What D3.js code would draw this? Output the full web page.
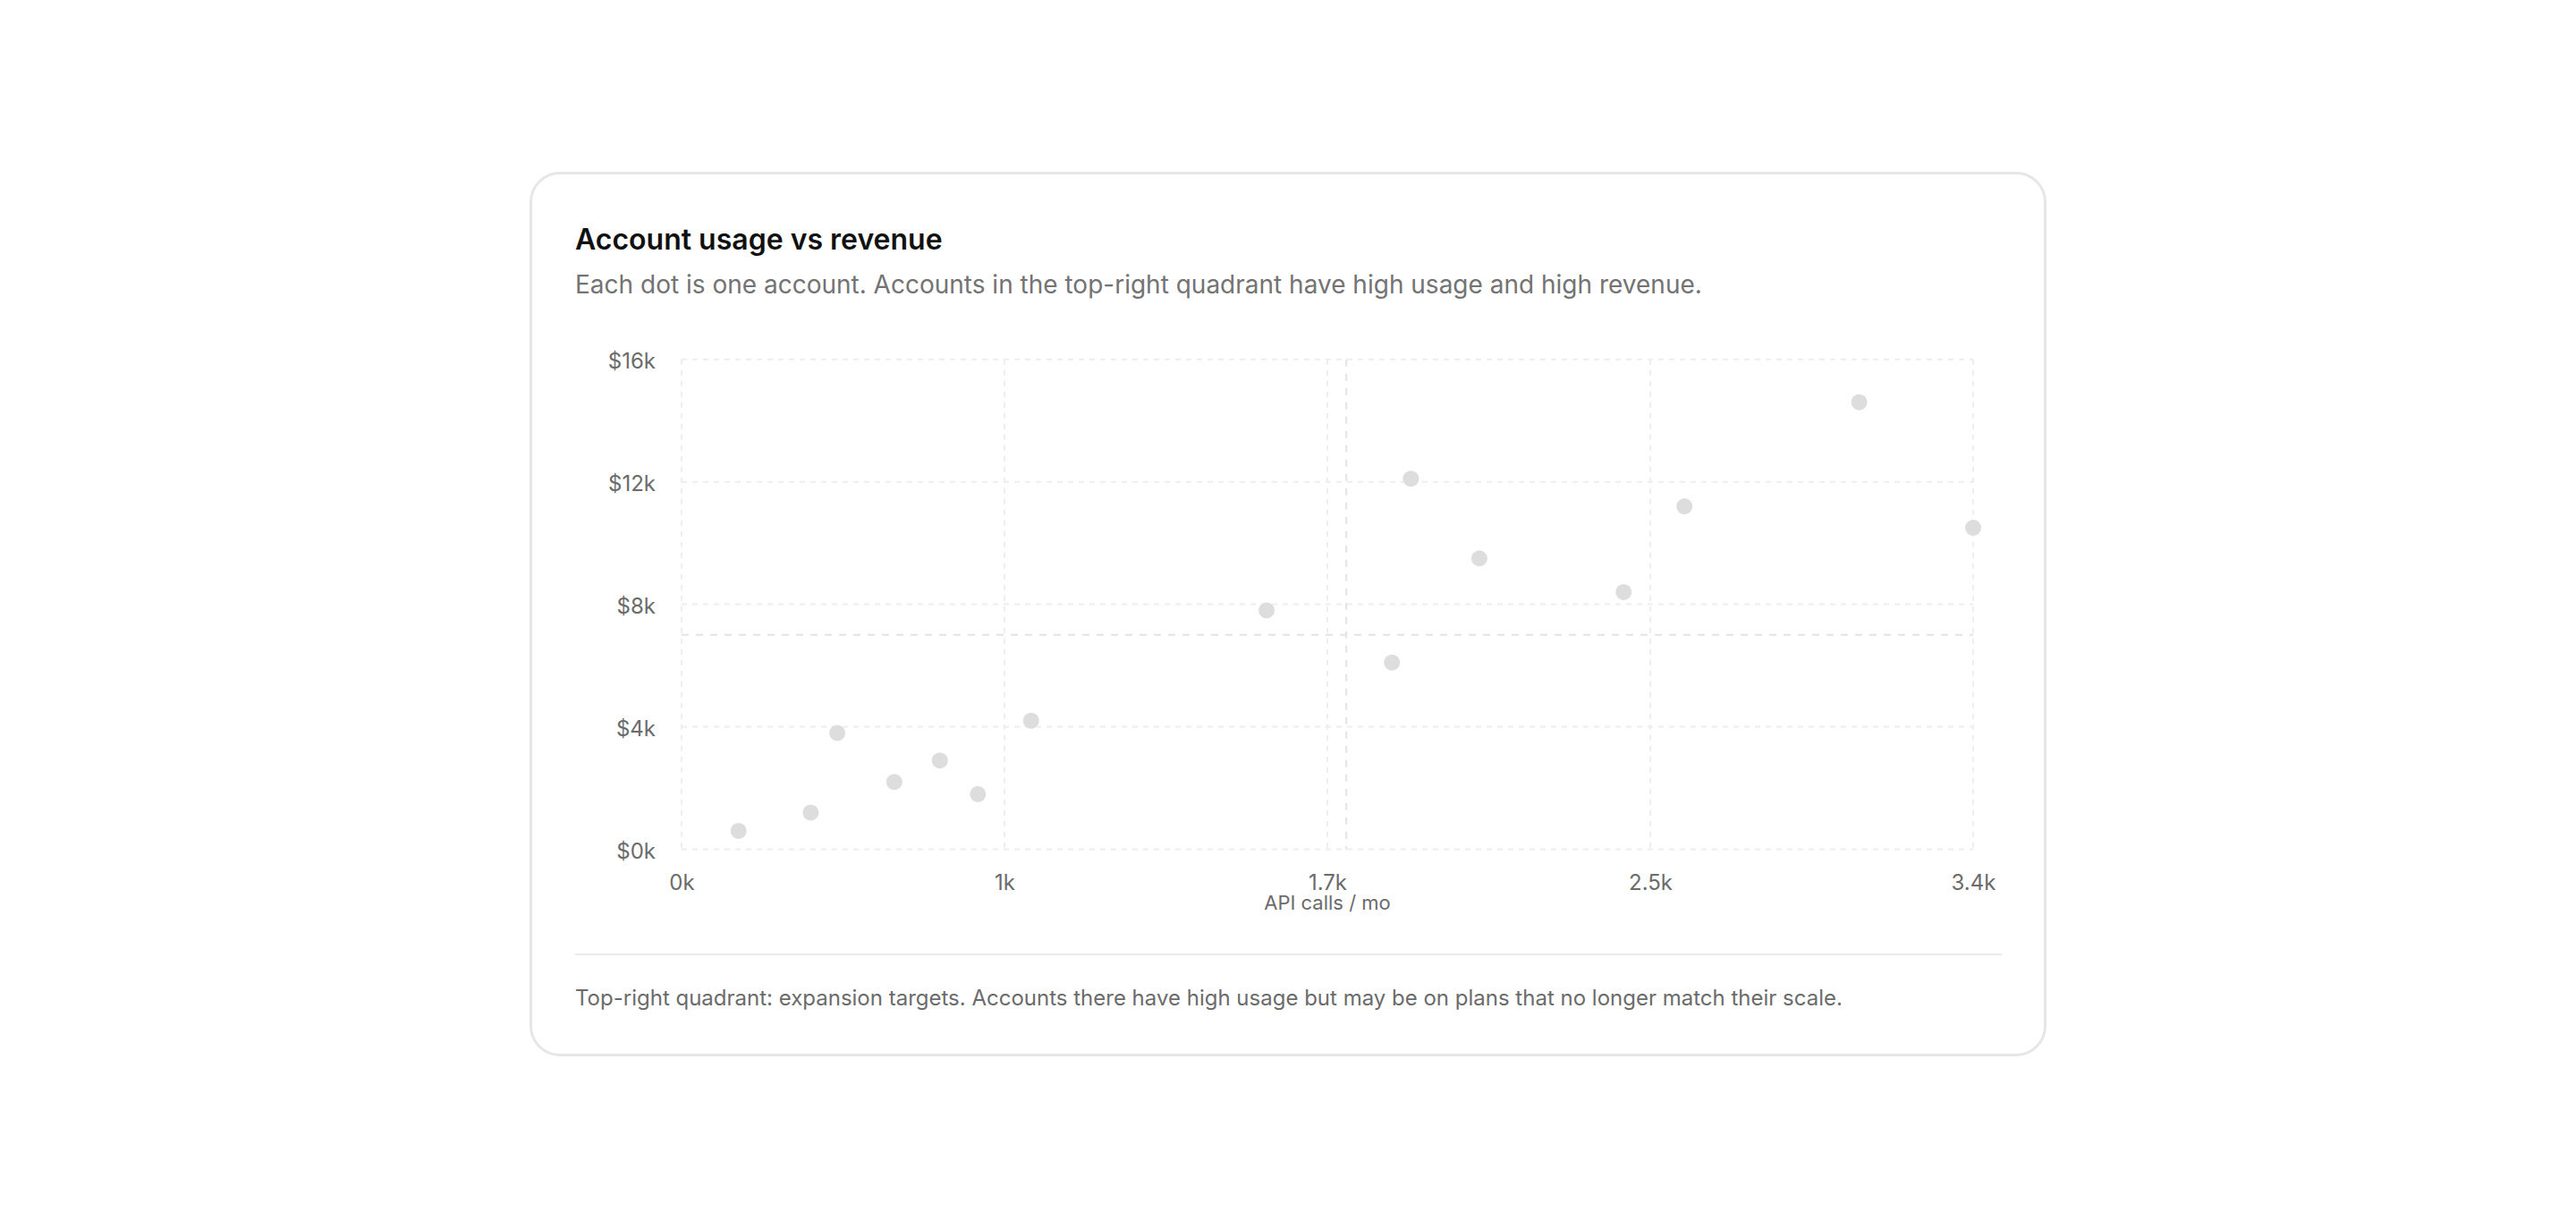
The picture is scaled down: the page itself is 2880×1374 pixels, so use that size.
<!DOCTYPE html>
<html>
<head>
<meta charset="utf-8">
<script src="https://cdn.jsdelivr.net/npm/d3@7"></script>
<style>
  html, body { margin: 0; padding: 0; background: #fff; }
  body { width: 2880px; height: 1374px; position: relative; font-family: Inter, "Noto Sans", sans-serif; }
  #card {
    position: absolute; left: 592px; top: 192px;
    width: 1696px; height: 989px; box-sizing: border-box;
    border: 3px solid #e6e6e6; border-radius: 34px; background: #fff;
  }
  #card svg { position: absolute; left: -3px; top: -3px; }
</style>
</head>
<body>
<div id="card"><svg id="chart"></svg></div>
<script>
// accounts: API calls per month vs monthly revenue
const apiCalls = [150, 340, 410, 560, 680, 780, 920, 1540, 1870, 1920, 2100, 2480, 2640, 3100, 3400];
const revenue  = [600, 1200, 3800, 2200, 2900, 1800, 4200, 7800, 6100, 12100, 9500, 8400, 11200, 14600, 10500];

const xTicks = [0, 850, 1700, 2550, 3400];
const xTickLabels = ["0k", "1k", "1.7k", "2.5k", "3.4k"];
const yTicks = [0, 4000, 8000, 12000, 16000];
const yTickLabels = ["$0k", "$4k", "$8k", "$12k", "$16k"];

// quadrant split
const usageSplit = 1750;
const revenueSplit = 7000;

const title = "Account usage vs revenue";
const subtitle = "Each dot is one account. Accounts in the top-right quadrant have high usage and high revenue.";
const xTitle = "API calls / mo";
const footnote = "Top-right quadrant: expansion targets. Accounts there have high usage but may be on plans that no longer match their scale.";

const width = 1696, height = 989;
const margin = { top: 209.7, left: 170, right: 82, bottom: 231.5 };
const iwidth = width - margin.left - margin.right;
const iheight = height - margin.top - margin.bottom;

const svg = d3.select("#chart").attr("width", width).attr("height", height);

svg.append("text")
  .attr("x", 51).attr("y", 87)
  .style("font-size", "32px").style("font-weight", 600).style("fill", "#111")
  .text(title);

svg.append("text")
  .attr("x", 51).attr("y", 136)
  .style("font-size", "28px").style("fill", "#737373")
  .text(subtitle);

const g = svg.append("g").attr("transform", `translate(${margin.left},${margin.top})`);

const x = d3.scaleLinear().domain([0, 3400]).range([0, iwidth]);
const y = d3.scaleLinear().domain([0, 16000]).range([iheight, 0]);

// grid
g.selectAll(".hgrid").data(yTicks).enter().append("line")
  .attr("class", "hgrid")
  .attr("x1", 0).attr("x2", iwidth)
  .attr("y1", d => y(d)).attr("y2", d => y(d))
  .style("stroke", "#eeeeee").style("stroke-width", 2).style("stroke-dasharray", "6 6");

g.selectAll(".vgrid").data(xTicks).enter().append("line")
  .attr("class", "vgrid")
  .attr("y1", 0).attr("y2", iheight)
  .attr("x1", d => x(d)).attr("x2", d => x(d))
  .style("stroke", "#eeeeee").style("stroke-width", 2).style("stroke-dasharray", "6 6");

// quadrant lines
g.append("line")
  .attr("x1", x(usageSplit)).attr("x2", x(usageSplit))
  .attr("y1", 0).attr("y2", iheight)
  .style("stroke", "#e3e3e3").style("stroke-width", 2).style("stroke-dasharray", "8 8");
g.append("line")
  .attr("x1", 0).attr("x2", iwidth)
  .attr("y1", y(revenueSplit)).attr("y2", y(revenueSplit))
  .style("stroke", "#e3e3e3").style("stroke-width", 2).style("stroke-dasharray", "8 8");

// axes
const yAxis = g.append("g")
  .call(d3.axisLeft(y).tickValues(yTicks).tickFormat((d, i) => yTickLabels[i]).tickSize(0).tickPadding(29));
const xAxis = g.append("g")
  .attr("transform", `translate(0,${iheight})`)
  .call(d3.axisBottom(x).tickValues(xTicks).tickFormat((d, i) => xTickLabels[i]).tickSize(0).tickPadding(28));

[yAxis, xAxis].forEach(a => {
  a.select(".domain").remove();
  a.selectAll("text")
    .style("font-family", "Inter, sans-serif")
    .style("font-size", "24px")
    .style("fill", "#6b6b6b");
});
yAxis.selectAll("text").attr("dy", "0.4em");

g.append("text")
  .attr("x", iwidth / 2).attr("y", iheight + 68)
  .attr("text-anchor", "middle")
  .style("font-size", "22px").style("fill", "#6b6b6b")
  .text(xTitle);

// dots
const points = apiCalls.map((v, i) => ({ calls: v, rev: revenue[i] }));
g.selectAll("circle").data(points).enter().append("circle")
  .attr("cx", d => x(d.calls))
  .attr("cy", d => y(d.rev))
  .attr("r", 9)
  .style("fill", "#dddddd");

// separator and footnote
svg.append("line")
  .attr("x1", 51).attr("x2", 1646)
  .attr("y1", 875).attr("y2", 875)
  .style("stroke", "#ebebeb").style("stroke-width", 2);

svg.append("text")
  .attr("x", 51).attr("y", 931.5)
  .style("font-size", "24px").style("fill", "#6b6b6b")
  .text(footnote);
</script>
</body>
</html>
